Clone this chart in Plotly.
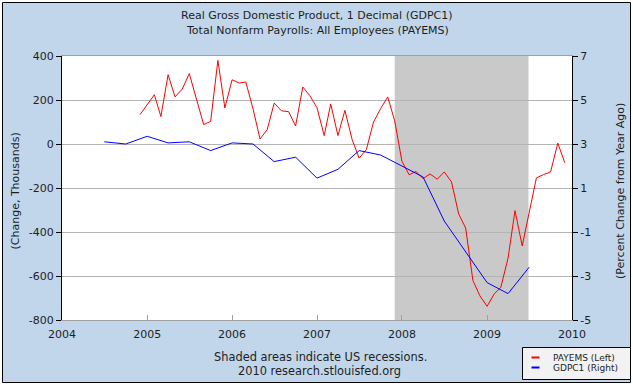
import pandas as pd
import plotly.graph_objects as go

# ---- data ----
payems_start = "2004-12-01"
payems_values = [133,
                 180, 224, 125, 315, 214, 250, 320, 200, 88, 103, 380, 164,
                 292, 277, 282, 160, 23, 65, 186, 151, 147, 82, 259, 220,
                 165, 38, 182, 38, 153, 20, -64, -26, 100, 160, 214, 105,
                 -78, -140, -125, -157, -136, -160, -127, -172, -318, -382, -620, -690,
                 -738, -681, -652, -519, -303, -463, -304, -154, -139, -127, 4, -85]
gdp_start = "2004-07-01"
gdp_values = [3.1, 3.0, 3.35, 3.05, 3.1, 2.7, 3.05, 3.0, 2.2, 2.4, 1.45,
              1.85, 2.7, 2.5, 2.0, 1.5, -0.5, -1.9, -3.3, -3.8, -2.6]
year_ticks = ["2004", "2005", "2006", "2007", "2008", "2009", "2010"]
left_ticks = [400, 200, 0, -200, -400, -600, -800]
right_ticks = [7, 5, 3, 1, -1, -3, -5]
recession = ("2007-12-01", "2009-06-28")

payems_dates = pd.date_range(payems_start, periods=len(payems_values), freq="MS")
gdp_dates = pd.date_range(gdp_start, periods=len(gdp_values), freq="QS")

W, H = 633, 386
ML, MR, MT, MB = 62, 61, 56, 66
PW, PH = W - ML - MR, H - MT - MB
def px(x):
    return (x - ML) / PW
def py(y):
    return (H - MB - y) / PH

BG = "#c1d6ea"
FONT = "DejaVu Sans"
TXT = "#1e1e1e"

fig = go.Figure()
fig.add_trace(go.Scatter(x=payems_dates, y=payems_values, mode="lines",
                         line=dict(color="#ff0000", width=1), name="PAYEMS (Left)",
                         yaxis="y"))
fig.add_trace(go.Scatter(x=gdp_dates, y=gdp_values, mode="lines",
                         line=dict(color="#0000ff", width=1), name="GDPC1 (Right)",
                         yaxis="y2"))

shapes = [
    # chart background with border
    dict(type="rect", xref="paper", yref="paper", x0=px(2.5), x1=px(630.5), y0=py(382.5), y1=py(2.5),
         fillcolor=BG, line=dict(color="black", width=1), layer="below"),
    # plot area
    dict(type="rect", xref="paper", yref="paper", x0=0, x1=1, y0=0, y1=1,
         fillcolor="white", line=dict(width=0), layer="below"),
    # recession
    dict(type="rect", xref="x", yref="paper", x0=recession[0], x1=recession[1], y0=0, y1=1,
         fillcolor="#c9c9c9", line=dict(width=0), layer="between"),
    # legend box
    dict(type="rect", xref="paper", yref="paper", x0=px(522.5), x1=px(630.5), y0=py(379.5), y1=py(347.5),
         fillcolor="#f2f2f2", line=dict(color="black", width=1), layer="above"),
    dict(type="line", xref="paper", yref="paper", x0=px(531.5), x1=px(539.5), y0=py(357.5), y1=py(357.5),
         line=dict(color="#ff0000", width=2), layer="above"),
    dict(type="line", xref="paper", yref="paper", x0=px(531.5), x1=px(539.5), y0=py(367.5), y1=py(367.5),
         line=dict(color="#0000ff", width=2), layer="above"),
]

def ann(text, x, y, size, xanchor="center", yanchor="middle", angle=0):
    return dict(text=text, xref="paper", yref="paper", x=px(x), y=py(y), showarrow=False,
                xanchor=xanchor, yanchor=yanchor, textangle=angle,
                font=dict(family=FONT, size=size, color=TXT))

annotations = [
    ann("Real Gross Domestic Product, 1 Decimal (GDPC1)", 317, 16, 11),
    ann("Total Nonfarm Payrolls: All Employees (PAYEMS)", 317, 31, 11),
    ann("(Change, Thousands)", 14.5, 191, 11, angle=-90),
    ann("(Percent Change from Year Ago)", 620, 191, 11, angle=-90),
    ann("Shaded areas indicate US recessions.", 320, 356.5, 11.4),
    ann("2010 research.stlouisfed.org", 319, 370.5, 11.4),
    ann("PAYEMS (Left)", 550.5, 357.5, 9, xanchor="left"),
    ann("GDPC1 (Right)", 550.5, 367.5, 9, xanchor="left"),
]

fig.update_layout(
    width=W, height=H,
    margin=dict(l=ML, r=MR, t=MT, b=MB, pad=0),
    paper_bgcolor="white", plot_bgcolor="rgba(0,0,0,0)",
    showlegend=False,
    shapes=shapes, annotations=annotations,
    font=dict(family=FONT, size=11, color=TXT),
    xaxis=dict(type="date", range=["2004-01-01", "2010-01-01"],
               tickvals=[f"{y}-01-01" for y in year_ticks], ticktext=year_ticks,
               showgrid=False, zeroline=False,
               showline=True, linecolor="#a0a0a0", linewidth=1, mirror=True,
               ticks="inside", ticklen=5, tickcolor="#a0a0a0", ticklabelstandoff=4,
               tickfont=dict(family=FONT, size=11, color=TXT)),
    yaxis=dict(range=[-800, 400], tickvals=left_ticks, ticktext=[str(v) for v in left_ticks],
               showgrid=True, gridcolor="#b4b4b4", gridwidth=1, zeroline=False,
               showline=True, linecolor="black", linewidth=1,
               ticks="outside", ticklen=5, tickcolor="black",
               tickfont=dict(family=FONT, size=11, color=TXT)),
    yaxis2=dict(range=[-5, 7], tickvals=right_ticks, ticktext=[str(v) for v in right_ticks],
                overlaying="y", side="right", showgrid=False, zeroline=False,
                showline=True, linecolor="black", linewidth=1,
                ticks="outside", ticklen=5, tickcolor="black",
                tickfont=dict(family=FONT, size=11, color=TXT)),
)

fig.write_html("out.html", config={"displayModeBar": False},
               post_script="document.body.style.margin='0';document.body.style.overflow='hidden';")
